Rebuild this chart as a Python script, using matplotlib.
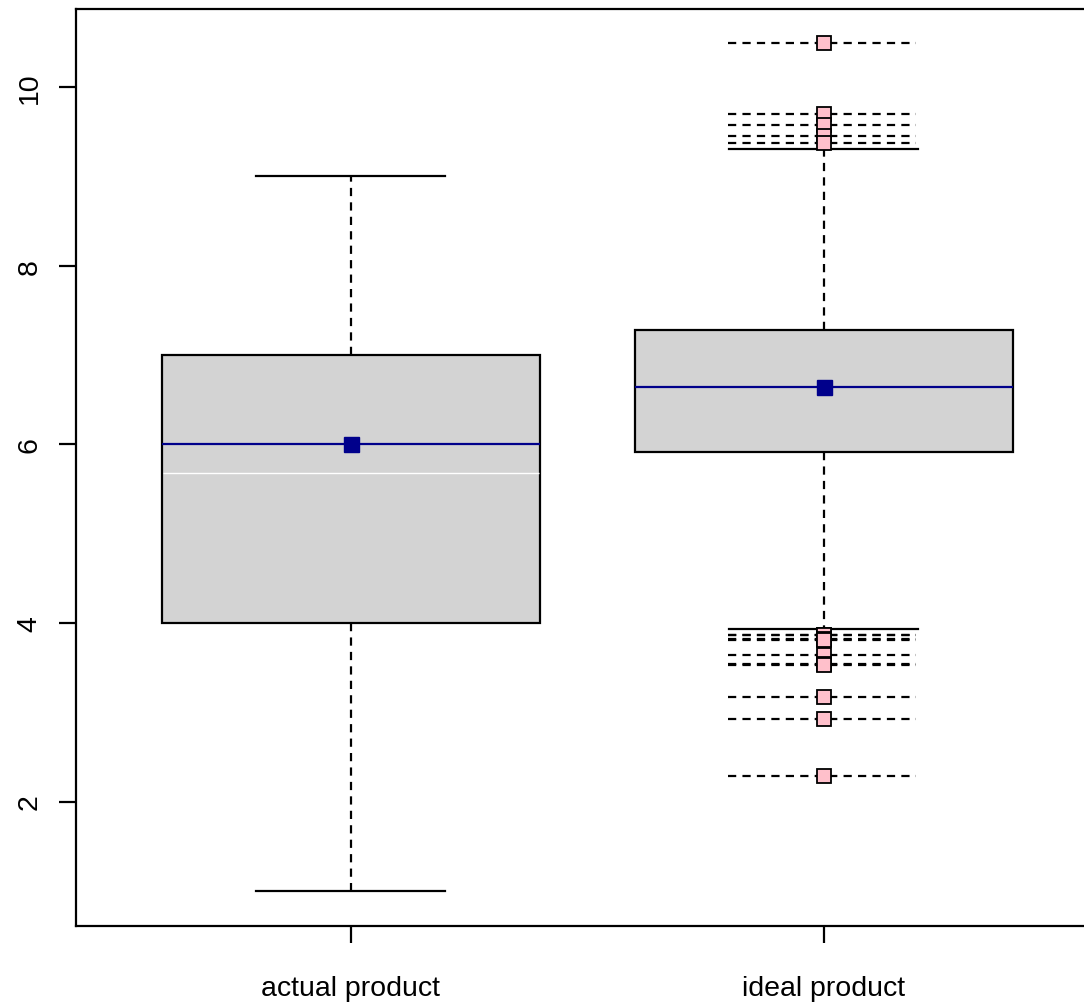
import matplotlib
matplotlib.use("Agg")
import matplotlib.pyplot as plt

plt.rcParams['font.family'] = ['Liberation Sans', 'DejaVu Sans']

categories = ["actual product", "ideal product"]
q1 = [4.0, 5.918]
median = [6.0, 6.642]
q3 = [7.0, 7.28]
whisker_lo = [1.0, 3.933]
whisker_hi = [9.0, 9.306]
white_line = [5.68, None]
outliers = [
    [],
    [10.49, 9.70, 9.575, 9.455, 9.37,
     3.87, 3.86, 3.815, 3.805, 3.645, 3.54, 3.528, 3.168, 2.925, 2.285],
]
yticks = [2, 4, 6, 8, 10]

positions = [1, 2]
LW = 1.6

fig = plt.figure(figsize=(10.84, 10.03), dpi=100)
ax = fig.add_axes([76/1084, 1 - 926.7/1003, (1098.5-76)/1084, (926.7-10)/1003])

stats = []
for i in range(2):
    stats.append(dict(med=median[i], q1=q1[i], q3=q3[i],
                      whislo=whisker_lo[i], whishi=whisker_hi[i],
                      fliers=[], label=categories[i]))

DASH = (0, (3.7, 2.8))
ax.bxp(stats, positions=positions, widths=0.8, capwidths=0.4,
       patch_artist=True, showfliers=False,
       boxprops=dict(facecolor='#D3D3D3', edgecolor='black', linewidth=LW),
       whiskerprops=dict(color='black', linewidth=LW, linestyle=DASH),
       capprops=dict(color='black', linewidth=LW),
       medianprops=dict(color='#00008B', linewidth=LW))

# white line inside actual box
for p, w in zip(positions, white_line):
    if w is not None:
        ax.hlines(w, p - 0.397, p + 0.397, color='white', linewidth=1.0, zorder=3)

# outlier dashed lines and markers
for p, outs in zip(positions, outliers):
    if outs:
        ax.hlines(outs, p - 0.202, p + 0.196, color='black', linewidth=LW,
                  linestyles=[DASH], zorder=1.5)
        ax.plot([p]*len(outs), outs, linestyle='none', marker='s', markersize=9.6,
                markerfacecolor='#FFC0CB', markeredgecolor='black',
                markeredgewidth=1.3, zorder=4)

# median markers
ax.plot(positions, median, linestyle='none', marker='s', markersize=10.8,
        color='#00008B', zorder=5)

ax.set_xlim(0.418, 2.582)
ax.set_ylim(0.611, 10.873)
ax.set_xticks(positions)
ax.set_xticklabels(categories)
ax.set_yticks(yticks)
ax.set_yticklabels([str(t) for t in yticks], rotation=90, va='center')

for s in ['left', 'bottom', 'top', 'right']:
    ax.spines[s].set_linewidth(LW)
ax.tick_params(axis='both', length=12.2, width=LW, labelsize=20.5, color='black')
ax.tick_params(axis='x', pad=23)
ax.tick_params(axis='y', pad=12)

fig.savefig("out.png", dpi=100)
